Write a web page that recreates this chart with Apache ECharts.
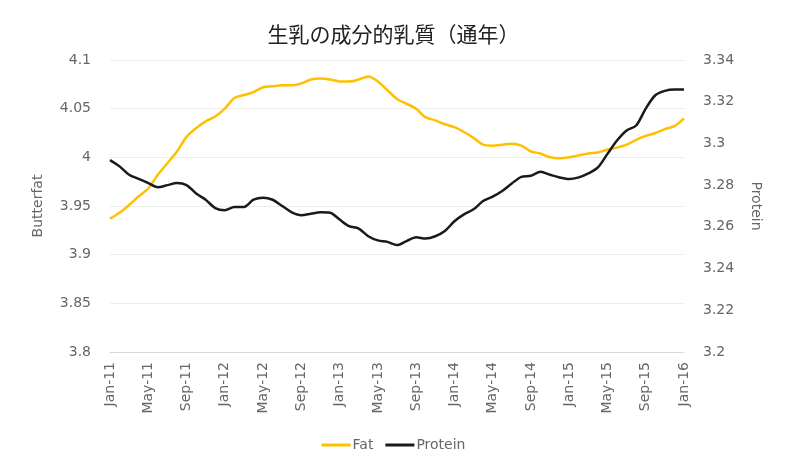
<!DOCTYPE html>
<html>
<head>
<meta charset="utf-8">
<script src="https://cdn.jsdelivr.net/npm/echarts@6/dist/echarts.min.js"></script>
<style>
  html, body { margin: 0; padding: 0; background: #fff; }
  #chart { width: 787px; height: 469px; }
</style>
</head>
<body>
<div id="chart"></div>
<script>
const months = [
  'Jan-11','Feb-11','Mar-11','Apr-11','May-11','Jun-11','Jul-11','Aug-11','Sep-11','Oct-11','Nov-11','Dec-11',
  'Jan-12','Feb-12','Mar-12','Apr-12','May-12','Jun-12','Jul-12','Aug-12','Sep-12','Oct-12','Nov-12','Dec-12',
  'Jan-13','Feb-13','Mar-13','Apr-13','May-13','Jun-13','Jul-13','Aug-13','Sep-13','Oct-13','Nov-13','Dec-13',
  'Jan-14','Feb-14','Mar-14','Apr-14','May-14','Jun-14','Jul-14','Aug-14','Sep-14','Oct-14','Nov-14','Dec-14',
  'Jan-15','Feb-15','Mar-15','Apr-15','May-15','Jun-15','Jul-15','Aug-15','Sep-15','Oct-15','Nov-15','Dec-15',
  'Jan-16'
];

const fat = [
  3.937, 3.943, 3.951, 3.960, 3.968, 3.982, 3.994, 4.006, 4.021, 4.030, 4.037, 4.042,
  4.050, 4.061, 4.064, 4.067, 4.072, 4.073, 4.074, 4.074, 4.076, 4.080, 4.081, 4.080,
  4.078, 4.078, 4.080, 4.083, 4.078, 4.069, 4.060, 4.055, 4.050, 4.041, 4.038, 4.034,
  4.031, 4.026, 4.020, 4.013, 4.012, 4.013, 4.014, 4.012, 4.006, 4.004, 4.000, 3.999,
  4.000, 4.002, 4.004, 4.005, 4.008, 4.010, 4.013, 4.018, 4.022, 4.025, 4.029, 4.032,
  4.040
];

const protein = [
  3.292, 3.289, 3.285, 3.283, 3.281, 3.279, 3.280, 3.281, 3.280, 3.276, 3.273, 3.269,
  3.268, 3.2695, 3.2695, 3.273, 3.274, 3.273, 3.270, 3.267, 3.2656, 3.2663, 3.267, 3.2668,
  3.2635, 3.2603, 3.2592, 3.2555, 3.2535, 3.2528, 3.2513, 3.2532, 3.255, 3.2544, 3.2555, 3.258,
  3.2627, 3.266, 3.2684, 3.2724, 3.2745, 3.2772, 3.2808, 3.284, 3.2845, 3.2864, 3.285, 3.2837,
  3.2829, 3.2837, 3.2856, 3.2885, 3.295, 3.3014, 3.3062, 3.3086, 3.3167, 3.3231, 3.3252, 3.3258,
  3.3258
];

const chart = echarts.init(document.getElementById('chart'));
const labelColor = '#666';
const font = 'DejaVu Sans';
chart.setOption({
  animation: false,
  title: {
    text: '生乳の成分的乳質（通年）',
    left: 'center',
    top: 19,
    textStyle: { fontFamily: 'Noto Sans CJK JP', fontSize: 21, fontWeight: 'normal', color: '#222' }
  },
  color: ['#FFC000', '#1a1a1a'],
  legend: {
    bottom: 12,
    left: 'center',
    icon: 'rect',
    itemWidth: 29,
    itemHeight: 3,
    itemGap: 12,
    textStyle: { color: labelColor, fontSize: 14, fontFamily: font, padding: [0, 0, 0, -3] },
    data: ['Fat', 'Protein']
  },
  grid: { left: 110, right: 103, top: 60, bottom: 117 },
  xAxis: {
    type: 'category',
    data: months,
    boundaryGap: false,
    axisLine: { lineStyle: { color: '#d9d9d9' } },
    axisTick: { show: false },
    axisLabel: {
      interval: 3,
      rotate: 90,
      color: labelColor,
      fontSize: 14,
      fontFamily: font,
      margin: 10
    }
  },
  yAxis: [
    {
      type: 'value',
      min: 3.8,
      max: 4.1,
      interval: 0.05,
      name: 'Butterfat',
      nameLocation: 'middle',
      nameGap: 65,
      nameTextStyle: { color: labelColor, fontSize: 14, fontFamily: font },
      axisLine: { show: false },
      axisTick: { show: false },
      axisLabel: { color: labelColor, fontSize: 14, fontFamily: font, margin: 19 },
      splitLine: { lineStyle: { color: '#ededed' } }
    },
    {
      type: 'value',
      min: 3.2,
      max: 3.34,
      interval: 0.02,
      name: 'Protein',
      nameLocation: 'middle',
      nameGap: 65,
      nameRotate: -90,
      nameTextStyle: { color: labelColor, fontSize: 14, fontFamily: font },
      axisLine: { show: false },
      axisTick: { show: false },
      axisLabel: { color: labelColor, fontSize: 14, fontFamily: font, margin: 19 },
      splitLine: { show: false }
    }
  ],
  series: [
    {
      name: 'Fat',
      type: 'line',
      yAxisIndex: 0,
      data: fat,
      showSymbol: false,
      smooth: 0.3,
      lineStyle: { width: 2.5 }
    },
    {
      name: 'Protein',
      type: 'line',
      yAxisIndex: 1,
      data: protein,
      showSymbol: false,
      smooth: 0.3,
      lineStyle: { width: 2.5 }
    }
  ]
});
</script>
</body>
</html>
